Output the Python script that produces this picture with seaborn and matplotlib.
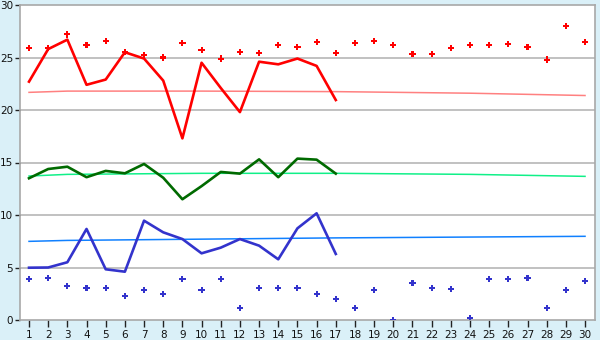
import numpy as np
import pandas as pd
import matplotlib
matplotlib.use("Agg")
import matplotlib.pyplot as plt
import seaborn as sns

days = list(range(1, 31))
line_days = list(range(1, 18))

red_line = [22.7, 25.8, 26.7, 22.4, 22.9, 25.5, 24.9, 22.8, 17.3, 24.5, 22.1, 19.8,
            24.6, 24.35, 24.9, 24.2, 20.95]
green_line = [13.5, 14.38, 14.6, 13.6, 14.2, 13.97, 14.86, 13.55, 11.5, 12.75, 14.1,
              13.94, 15.3, 13.6, 15.37, 15.27, 13.94]
blue_line = [4.98, 5.0, 5.5, 8.67, 4.83, 4.6, 9.46, 8.35, 7.71, 6.35, 6.89, 7.71,
             7.08, 5.78, 8.73, 10.16, 6.29]

red_dots = [25.9, 25.9, 27.2, 26.2, 26.6, 25.5, 25.2, 25.0, 26.35, 25.7, 24.9, 25.5,
            25.4, 26.2, 25.97, 26.5, 25.4, 26.35, 26.6, 26.2, 25.3, 25.3, 25.9, 26.2,
            26.2, 26.25, 25.97, 24.8, 27.97, 26.5]
blue_dots = [3.87, 3.97, 3.21, 3.02, 3.02, 2.25, 2.83, 2.44, 3.87, 2.83, 3.87, 1.11,
             3.02, 3.02, 3.02, 2.44, 1.97, 1.11, 2.83, 0.0, 3.49, 3.02, 2.92, 0.16,
             3.87, 3.87, 3.97, 1.11, 2.83, 3.68]

trend_days = [1, 3, 10, 17, 24, 30]
red_trend = [21.68, 21.8, 21.8, 21.75, 21.6, 21.38]
green_trend = [13.71, 13.87, 13.97, 13.97, 13.87, 13.68]
blue_trend = [7.49, 7.58, 7.7, 7.82, 7.9, 7.97]

fig = plt.figure(figsize=(6, 3.4), dpi=100)
fig.patch.set_facecolor("#daf0f8")
ax = fig.add_axes([20/600, 1-320/340, 575/600, 315/340])
ax.set_facecolor("white")

df_lines = pd.DataFrame({"day": line_days * 3,
                         "value": red_line + green_line + blue_line,
                         "series": ["red"] * 17 + ["green"] * 17 + ["blue"] * 17})
df_trend = pd.DataFrame({"day": trend_days * 3,
                         "value": red_trend + green_trend + blue_trend,
                         "series": ["red"] * 6 + ["green"] * 6 + ["blue"] * 6})
df_dots = pd.DataFrame({"day": days * 2, "value": red_dots + blue_dots,
                        "series": ["red"] * 30 + ["blue"] * 30})

for v in [5, 10, 15, 20, 25]:
    ax.axhline(v, color="#b0b0b0", lw=1.1, zorder=0)

sns.lineplot(data=df_trend, x="day", y="value", hue="series",
             palette={"red": "#ff8080", "green": "#10f088", "blue": "#1080ff"},
             lw=1.1, legend=False, ax=ax, zorder=2)
sns.lineplot(data=df_lines, x="day", y="value", hue="series",
             palette={"red": "#ff0000", "green": "#006a00", "blue": "#3333cc"},
             lw=1.9, legend=False, ax=ax, zorder=3)
sns.scatterplot(data=df_dots, x="day", y="value", hue="series",
                palette={"red": "#ff0000", "blue": "#3333cc"},
                marker="P", s=20, linewidth=0, legend=False, ax=ax, zorder=4)

ax.set_xlim(0.53, 30.52)
ax.set_ylim(0, 30)
ax.set_xticks(days)
ax.set_xticklabels([str(d) for d in days])
ax.set_yticks([0, 5, 10, 15, 20, 25, 30])
ax.set_xlabel("")
ax.set_ylabel("")
ax.grid(False)
for s in ax.spines.values():
    s.set_color("#a8a8a8")
    s.set_linewidth(1.2)
ax.tick_params(axis="both", direction="out", length=3.5, width=1, color="#222222",
               labelsize=7.5, labelcolor="#111111", pad=1.5)
ax.tick_params(axis="x", length=5, pad=2)

fig.savefig("out.png", dpi=100, facecolor=fig.get_facecolor())
